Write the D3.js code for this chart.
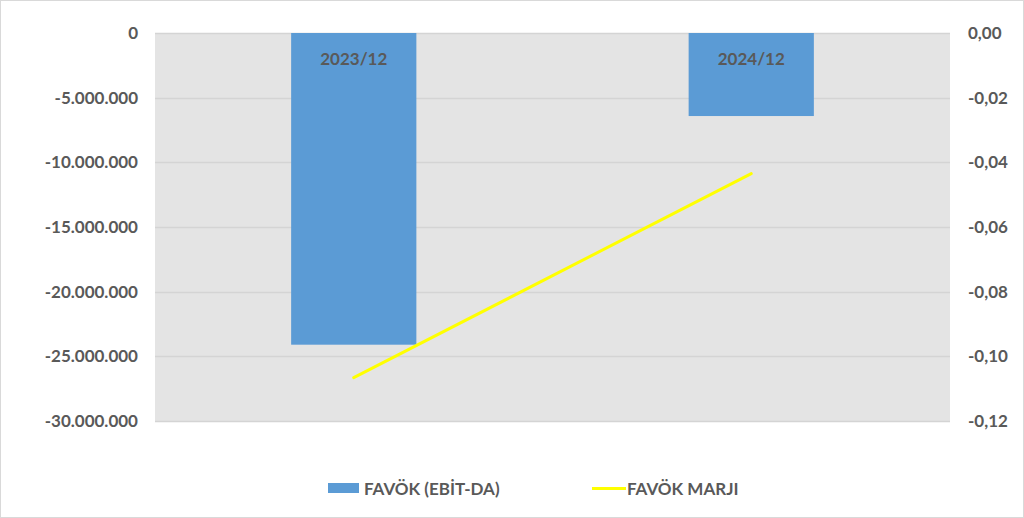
<!DOCTYPE html>
<html>
<head>
<meta charset="utf-8">
<script src="https://cdn.jsdelivr.net/npm/d3@7"></script>
<style>
  body { margin: 0; background: #fff; }
  text { font-family: Lato, "Open Sans", sans-serif; font-weight: bold; fill: #595959; }
</style>
</head>
<body>
<svg id="chart"></svg>
<script>
var categories = ["2023/12", "2024/12"];
var favok = [-24100000, -6420000];
var marj = [-0.1066, -0.0435];
var leftTicks = [0, -5000000, -10000000, -15000000, -20000000, -25000000, -30000000];
var rightTicks = [0, -0.02, -0.04, -0.06, -0.08, -0.10, -0.12];

var width = 1024, height = 518;
var plotL = 155, plotR = 950, plotT = 33, plotB = 421;
var fontSize = "17px";

var svg = d3.select("#chart").attr("width", width).attr("height", height);

svg.append("rect")
  .attr("x", 0.5).attr("y", 0.5)
  .attr("width", width - 1).attr("height", height - 1)
  .attr("fill", "#fff").attr("stroke", "#d9d9d9");

var x = d3.scaleBand().domain(categories).range([plotL, plotR]).padding(0);
var y = d3.scaleLinear().domain([-30000000, 0]).range([plotB, plotT]);
var y2 = d3.scaleLinear().domain([-0.12, 0]).range([plotB, plotT]);

svg.append("rect")
  .attr("x", plotL).attr("y", plotT)
  .attr("width", plotR - plotL).attr("height", plotB - plotT)
  .attr("fill", "#e4e4e4");

// gridlines
svg.append("g").selectAll("line").data(leftTicks).enter().append("line")
  .attr("x1", plotL).attr("x2", plotR)
  .attr("y1", function(d) { return Math.round(y(d)) + 0.5; })
  .attr("y2", function(d) { return Math.round(y(d)) + 0.5; })
  .attr("stroke", "#d4d4d4").attr("stroke-width", 1.5);

var fmtLeft = function(d) {
  return d3.format(",")(d).replace(/,/g, ".").replace("−", "-");
};
var fmtRight = function(d) {
  return d3.format(".2f")(d).replace(".", ",").replace("−", "-");
};

var yAxis = d3.axisLeft(y).tickValues(leftTicks).tickSize(0).tickPadding(17).tickFormat(fmtLeft);
var gL = svg.append("g").attr("transform", "translate(" + plotL + ",0)").call(yAxis);
gL.select(".domain").remove();
gL.selectAll("text").style("font-size", fontSize).attr("fill", "#595959").style("font-family", null);

var yAxis2 = d3.axisRight(y2).tickValues(rightTicks).tickSize(0).tickPadding(18).tickFormat(fmtRight);
var gR = svg.append("g").attr("transform", "translate(" + plotR + ",0)").call(yAxis2);
gR.select(".domain").remove();
gR.selectAll("text").style("font-size", fontSize).attr("fill", "#595959").style("font-family", null);

var barW = x.bandwidth() * 0.315;

svg.append("g").selectAll("rect").data(favok).enter().append("rect")
  .attr("x", function(d, i) { return x(categories[i]) + x.bandwidth() / 2 - barW / 2; })
  .attr("y", y(0))
  .attr("width", barW)
  .attr("height", function(d) { return y(d) - y(0); })
  .attr("fill", "#5b9bd5");

// category labels inside bars
svg.append("g").selectAll("text").data(categories).enter().append("text")
  .attr("x", function(d) { return x(d) + x.bandwidth() / 2; })
  .attr("y", plotT + 32)
  .attr("text-anchor", "middle")
  .style("font-size", fontSize)
  .text(function(d) { return d; });

var line = d3.line()
  .x(function(d, i) { return x(categories[i]) + x.bandwidth() / 2; })
  .y(function(d) { return y2(d); });

svg.append("path").datum(marj)
  .attr("d", line)
  .attr("fill", "none")
  .attr("stroke", "#ffff00")
  .attr("stroke-width", 3)
  .attr("stroke-linecap", "round");

// legend
var lg = svg.append("g");
lg.append("rect").attr("x", 328).attr("y", 483).attr("width", 31).attr("height", 10).attr("fill", "#5b9bd5");
lg.append("text").attr("x", 364).attr("y", 495).style("font-size", fontSize).text("FAVÖK (EBİT-DA)");
lg.append("line").attr("x1", 592).attr("x2", 626).attr("y1", 488.5).attr("y2", 488.5)
  .attr("stroke", "#ffff00").attr("stroke-width", 3);
lg.append("text").attr("x", 627).attr("y", 495).style("font-size", fontSize).text("FAVÖK MARJI");
</script>
</body>
</html>
